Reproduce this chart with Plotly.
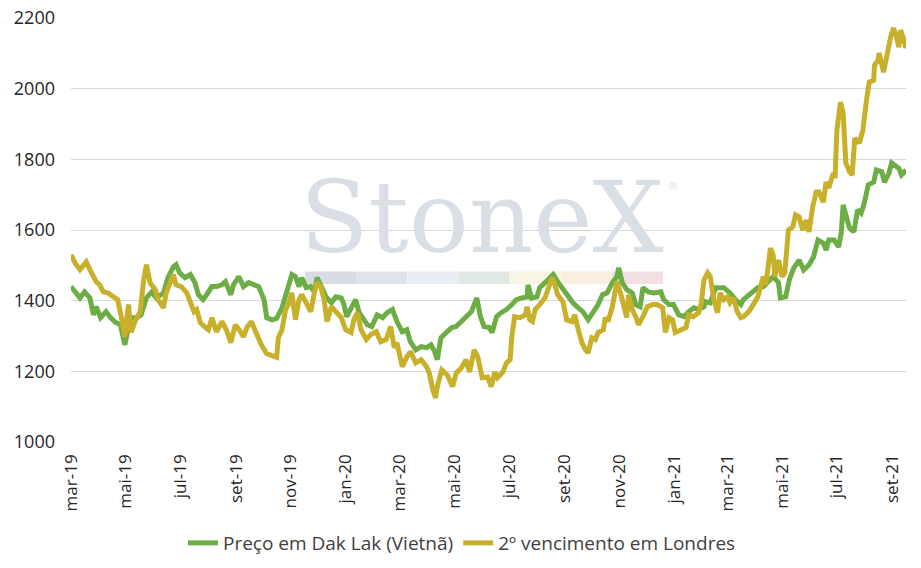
import plotly.graph_objects as go

# ---------------- data ----------------
dak_dates = [
    "2019-03-01","2019-03-05","2019-03-11","2019-03-16","2019-03-22","2019-03-26","2019-03-29",
    "2019-04-03","2019-04-09","2019-04-14","2019-04-20","2019-04-25","2019-04-30",
    "2019-05-06","2019-05-13","2019-05-18","2019-05-24","2019-05-30",
    "2019-06-04","2019-06-12","2019-06-17","2019-06-23","2019-06-26","2019-06-30",
    "2019-07-06","2019-07-12","2019-07-17","2019-07-21","2019-07-26","2019-07-30",
    "2019-08-05","2019-08-10","2019-08-16","2019-08-20","2019-08-26","2019-08-29",
    "2019-09-04","2019-09-09","2019-09-15","2019-09-21","2019-09-26",
    "2019-10-02","2019-10-05","2019-10-11","2019-10-16","2019-10-22","2019-10-26","2019-10-29",
    "2019-11-02","2019-11-06","2019-11-10","2019-11-13","2019-11-18","2019-11-23","2019-11-27","2019-11-30",
    "2019-12-04","2019-12-10","2019-12-16","2019-12-21","2019-12-27","2019-12-30",
    "2020-01-02","2020-01-07","2020-01-12","2020-01-16","2020-01-19","2020-01-25","2020-01-30",
    "2020-02-05","2020-02-11","2020-02-16","2020-02-22","2020-02-27",
    "2020-03-04","2020-03-09","2020-03-13","2020-03-19","2020-03-25","2020-03-31",
    "2020-04-05","2020-04-09","2020-04-12","2020-04-16","2020-04-22","2020-04-28",
    "2020-05-03","2020-05-09","2020-05-14","2020-05-20","2020-05-26","2020-05-30",
    "2020-06-03","2020-06-09","2020-06-12","2020-06-17","2020-06-22","2020-06-28",
    "2020-07-04","2020-07-09","2020-07-15","2020-07-21","2020-07-22","2020-07-26",
    "2020-08-01","2020-08-04","2020-08-10","2020-08-15","2020-08-19","2020-08-24","2020-08-30",
    "2020-09-05","2020-09-10","2020-09-16","2020-09-21","2020-09-27",
    "2020-10-03","2020-10-08","2020-10-13","2020-10-18","2020-10-24","2020-10-29","2020-10-31",
    "2020-11-04","2020-11-09","2020-11-15","2020-11-19","2020-11-24","2020-11-27",
    "2020-12-03","2020-12-09","2020-12-17","2020-12-20","2020-12-26","2020-12-31",
    "2021-01-06","2021-01-12","2021-01-17","2021-01-23","2021-01-28",
    "2021-02-03","2021-02-05","2021-02-10","2021-02-16","2021-02-25",
    "2021-03-04","2021-03-10","2021-03-16","2021-03-19","2021-03-25","2021-03-29",
    "2021-04-04","2021-04-10","2021-04-15","2021-04-21","2021-04-27","2021-04-29",
    "2021-05-05","2021-05-09","2021-05-14","2021-05-20","2021-05-25","2021-05-31",
    "2021-06-05","2021-06-10","2021-06-16","2021-06-19","2021-06-22","2021-06-28",
    "2021-07-03","2021-07-06","2021-07-08","2021-07-11","2021-07-15","2021-07-20","2021-07-24","2021-07-28","2021-07-31",
    "2021-08-05","2021-08-11","2021-08-14","2021-08-20","2021-08-23","2021-08-28","2021-08-31",
    "2021-09-03","2021-09-08","2021-09-11","2021-09-16",
]
dak_values = [
    1440,1425,1408,1425,1408,1360,1383,
    1352,1369,1352,1338,1332,1275,
    1352,1352,1360,1408,1425,
    1408,1422,1465,1496,1502,1479,
    1465,1474,1451,1417,1403,1417,
    1440,1440,1445,1454,1417,1445,
    1468,1440,1451,1445,1440,
    1403,1352,1346,1350,1380,1422,1440,
    1474,1468,1440,1465,1437,1440,1425,1465,
    1445,1411,1394,1411,1408,1389,
    1355,1380,1403,1366,1355,1332,1327,
    1360,1352,1366,1375,1341,
    1312,1318,1284,1261,1270,1267,
    1275,1256,1233,1295,1310,1324,
    1327,1341,1352,1369,1408,1355,
    1327,1324,1310,1355,1366,1375,
    1389,1403,1408,1411,1445,1408,
    1411,1437,1451,1465,1474,1454,1431,
    1411,1394,1380,1369,1346,
    1369,1389,1417,1422,1451,1468,1493,
    1451,1431,1422,1389,1383,1437,
    1425,1422,1425,1403,1389,1389,
    1360,1355,1369,1380,1375,
    1383,1397,1394,1437,1437,
    1422,1403,1389,1403,1417,1425,
    1437,1440,1451,1468,1451,1408,
    1411,1459,1493,1515,1487,1502,
    1524,1572,1563,1543,1572,1572,
    1552,1595,1671,1648,1606,1595,1657,1648,1671,
    1728,1736,1770,1765,1736,1761,1790,
    1784,1775,1756,1770,
]

lon_dates = [
    "2019-03-01","2019-03-06","2019-03-11","2019-03-18","2019-03-22","2019-03-26","2019-03-29",
    "2019-04-02","2019-04-06","2019-04-11","2019-04-17","2019-04-22","2019-04-26","2019-04-30",
    "2019-05-04","2019-05-07","2019-05-12","2019-05-17","2019-05-21","2019-05-24","2019-05-28",
    "2019-06-03","2019-06-06","2019-06-12","2019-06-15","2019-06-20","2019-06-23","2019-06-26",
    "2019-07-02","2019-07-08","2019-07-12","2019-07-16","2019-07-19","2019-07-23","2019-07-29",
    "2019-08-01","2019-08-05","2019-08-10","2019-08-16","2019-08-21","2019-08-26","2019-08-31",
    "2019-09-06","2019-09-09","2019-09-13","2019-09-18","2019-09-24","2019-09-29",
    "2019-10-05","2019-10-11","2019-10-16","2019-10-18","2019-10-22","2019-10-26","2019-10-29",
    "2019-11-02","2019-11-06","2019-11-10","2019-11-13","2019-11-18","2019-11-23","2019-11-27","2019-11-30",
    "2019-12-04","2019-12-08","2019-12-11","2019-12-16","2019-12-21","2019-12-27",
    "2020-01-01","2020-01-07","2020-01-10","2020-01-14","2020-01-18","2020-01-24","2020-01-29",
    "2020-02-04","2020-02-09","2020-02-15","2020-02-20","2020-02-24","2020-02-27",
    "2020-03-04","2020-03-09","2020-03-13","2020-03-19","2020-03-25","2020-03-31",
    "2020-04-03","2020-04-07","2020-04-10","2020-04-12","2020-04-17","2020-04-23","2020-04-29",
    "2020-05-03","2020-05-09","2020-05-14","2020-05-18","2020-05-23","2020-05-27",
    "2020-06-01","2020-06-07","2020-06-11","2020-06-15","2020-06-18","2020-06-24","2020-06-28",
    "2020-07-02","2020-07-04","2020-07-07","2020-07-13","2020-07-19","2020-07-21","2020-07-24","2020-07-27","2020-07-30",
    "2020-08-04","2020-08-10","2020-08-13","2020-08-18","2020-08-21","2020-08-24","2020-08-30",
    "2020-09-03","2020-09-09","2020-09-12","2020-09-16","2020-09-20","2020-09-24","2020-09-27",
    "2020-10-01","2020-10-05","2020-10-08","2020-10-14","2020-10-16","2020-10-19","2020-10-24","2020-10-27","2020-10-29",
    "2020-11-02","2020-11-05","2020-11-09","2020-11-11","2020-11-15","2020-11-19","2020-11-22","2020-11-27",
    "2020-12-02","2020-12-08","2020-12-13","2020-12-19","2020-12-22","2020-12-26","2020-12-30",
    "2021-01-02","2021-01-08","2021-01-14","2021-01-17","2021-01-22","2021-01-28","2021-01-31",
    "2021-02-03","2021-02-07","2021-02-10","2021-02-14","2021-02-18","2021-02-21","2021-02-25",
    "2021-03-01","2021-03-04","2021-03-08","2021-03-12","2021-03-16","2021-03-19","2021-03-25","2021-03-31",
    "2021-04-04","2021-04-10","2021-04-13","2021-04-18","2021-04-21","2021-04-23","2021-04-27",
    "2021-05-01","2021-05-04","2021-05-08","2021-05-13","2021-05-16","2021-05-20","2021-05-24","2021-05-28","2021-05-31",
    "2021-06-04","2021-06-08","2021-06-11","2021-06-16","2021-06-19","2021-06-22","2021-06-27","2021-06-29",
    "2021-07-01","2021-07-05","2021-07-08","2021-07-11","2021-07-15","2021-07-18","2021-07-21","2021-07-26","2021-07-30",
    "2021-08-03","2021-08-06","2021-08-11","2021-08-12","2021-08-16","2021-08-17","2021-08-22","2021-08-25","2021-08-30",
    "2021-09-02","2021-09-05","2021-09-08","2021-09-10","2021-09-13","2021-09-16",
]
lon_values = [
    1530,1505,1488,1510,1488,1465,1454,
    1445,1425,1422,1411,1403,1355,1298,
    1389,1310,1346,1369,1460,1502,1451,
    1431,1403,1380,1422,1451,1474,1445,
    1440,1422,1394,1369,1375,1338,1324,
    1318,1352,1312,1341,1318,1281,1332,
    1312,1298,1324,1341,1304,1275,
    1250,1245,1240,1295,1318,1375,1389,
    1422,1346,1403,1417,1394,1369,1422,1451,
    1440,1403,1341,1383,1369,1352,
    1318,1310,1346,1366,1318,1290,1304,
    1312,1284,1290,1327,1267,1281,
    1213,1241,1256,1224,1233,1213,
    1195,1148,1125,1157,1204,1190,1157,
    1195,1210,1233,1198,1261,1241,
    1182,1184,1157,1198,1182,1198,1224,
    1233,1298,1355,1352,1360,1383,1346,1341,1375,
    1389,1408,1431,1465,1445,1417,1397,
    1346,1341,1360,1318,1281,1261,1252,
    1295,1290,1310,1318,1352,1341,1383,1417,1454,
    1422,1394,1352,1417,1375,1355,1332,1355,
    1383,1389,1389,1380,1310,1352,1346,
    1310,1318,1324,1360,1355,1366,1394,
    1459,1479,1468,1403,1366,1422,1403,
    1411,1394,1408,1369,1352,1355,1369,1394,
    1411,1468,1445,1549,1530,1468,1515,
    1468,1479,1600,1609,1643,1637,1600,1628,1595,
    1665,1708,1708,1679,1736,1719,1761,1747,
    1883,1962,1931,1790,1765,1756,1860,1846,1883,
    1968,2019,2024,2067,2081,2101,2047,2087,2147,
    2172,2152,2118,2166,2143,2115,
]

series_names = ["Preço em Dak Lak (Vietnã)", "2º vencimento em Londres"]

tick_dates = ["2019-03-01","2019-05-01","2019-07-01","2019-09-01","2019-11-01",
              "2020-01-01","2020-03-01","2020-05-01","2020-07-01","2020-09-01","2020-11-01",
              "2021-01-01","2021-03-01","2021-05-01","2021-07-01","2021-09-01"]
tick_labels = ["mar-19","mai-19","jul-19","set-19","nov-19",
               "jan-20","mar-20","mai-20","jul-20","set-20","nov-20",
               "jan-21","mar-21","mai-21","jul-21","set-21"]
y_ticks = [1000, 1200, 1400, 1600, 1800, 2000, 2200]

# ---------------- style ----------------
GREEN = "#6DAD45"
GOLD = "#C8B02B"
FONT = "Open Sans"
TXT = "#262626"

fig = go.Figure()
fig.add_trace(go.Scatter(x=dak_dates, y=dak_values, mode="lines", name=series_names[0],
                         line=dict(color=GREEN, width=5)))
fig.add_trace(go.Scatter(x=lon_dates, y=lon_values, mode="lines", name=series_names[1],
                         line=dict(color=GOLD, width=5)))

# plot area in page pixels: x 71..906, y 18..442
PL, PR, PT, PB = 71, 906, 18, 442
PW, PH = PR - PL, PB - PT

def px(x):
    return (x - PL) / PW

def py(y):
    return (PB - y) / PH

# watermark band (decoration)
band_colors = ["#d8dde4", "#dfe4ec", "#e9eef5", "#dfe8e3", "#f8f5e3", "#fbf0df", "#f4e0e3"]
bx0, bx1 = 305, 663
bw = (bx1 - bx0) / len(band_colors)
shapes = []
for i, c in enumerate(band_colors):
    shapes.append(dict(type="rect", xref="paper", yref="paper",
                       x0=px(bx0 + i * bw), x1=px(bx0 + (i + 1) * bw),
                       y0=py(284), y1=py(271.5), fillcolor=c, line=dict(width=0),
                       layer="below"))

annotations = [
    dict(text="StoneX", xref="paper", yref="paper", x=px(482), y=py(217),
         xanchor="center", yanchor="middle", showarrow=False,
         font=dict(family="DejaVu Serif", size=100, color="#dadfe6")),
    dict(text="®", xref="paper", yref="paper", x=px(673), y=py(186),
         xanchor="center", yanchor="middle", showarrow=False,
         font=dict(family="Liberation Sans", size=11, color="#dadfe6")),
]

# the page body adds an 8px offset; compensate in the margins
OFF = 8
fig.update_layout(
    width=921, height=568,
    margin=dict(l=PL - OFF, r=921 - PR + OFF, t=PT - OFF, b=568 - PB + OFF, autoexpand=False),
    paper_bgcolor="white", plot_bgcolor="white",
    font=dict(family=FONT, color=TXT),
    shapes=shapes, annotations=annotations,
    showlegend=True,
    legend=dict(orientation="h", x=px(462), xanchor="center", y=py(543), yanchor="middle",
                font=dict(family=FONT, size=19, color="#404040"),
                itemwidth=30, bgcolor="rgba(0,0,0,0)"),
)
fig.update_xaxes(
    type="date", range=["2019-03-01", "2021-09-16"],
    tickmode="array", tickvals=tick_dates, ticktext=tick_labels,
    tickangle=-90, tickfont=dict(family=FONT, size=17, color=TXT),
    showgrid=False, showline=False, zeroline=False, ticks="", ticklabelstandoff=8,
    automargin=False, ticklabeloverflow="allow",
)
fig.update_yaxes(
    range=[1000, 2200.4], tickmode="array", tickvals=y_ticks,
    tickfont=dict(family=FONT, size=18, color=TXT),
    showgrid=True, gridcolor="#d9d9d9", gridwidth=1.3,
    showline=False, zeroline=False, ticks="", ticklabelstandoff=15,
    automargin=False, ticklabeloverflow="allow",
)

fig.write_html("out.html")
